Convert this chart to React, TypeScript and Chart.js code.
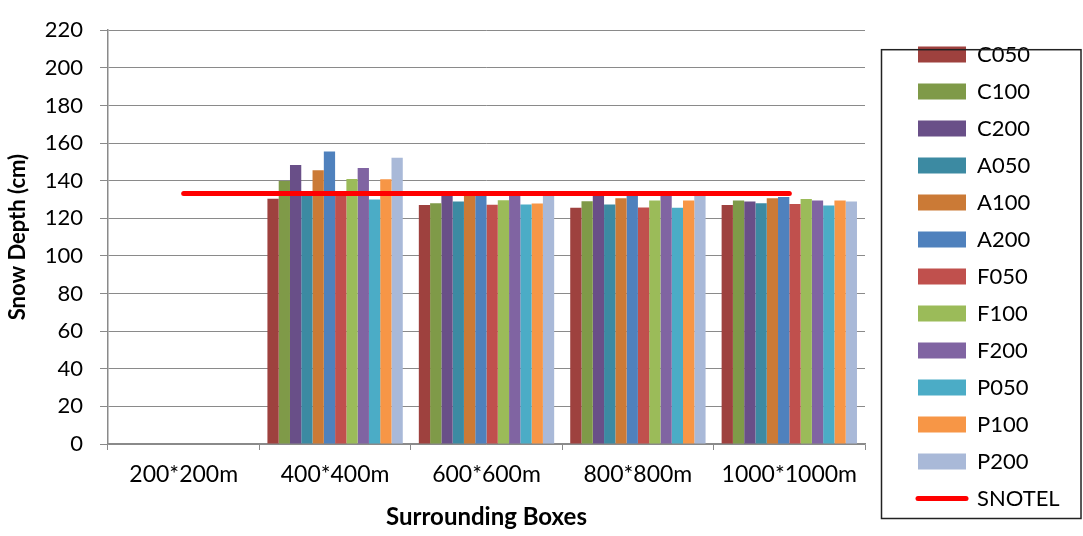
import React, { useEffect, useRef } from 'react';
import { Chart, registerables } from 'chart.js';

Chart.register(...registerables);

const FONT = 'Lato, "Open Sans", sans-serif';

const categories = ['200*200m', '400*400m', '600*600m', '800*800m', '1000*1000m'];

const C050 = [null, 130.4, 127.0, 125.6, 127.0];
const C100 = [null, 139.8, 128.0, 129.0, 129.4];
const C200 = [null, 148.3, 133.0, 133.0, 128.9];
const A050 = [null, 133.5, 128.9, 127.3, 128.0];
const A100 = [null, 145.5, 133.5, 130.7, 130.6];
const A200 = [null, 155.5, 133.5, 133.5, 131.3];
const F050 = [null, 133.5, 127.2, 125.8, 127.6];
const F100 = [null, 140.9, 129.6, 129.4, 130.2];
const F200 = [null, 146.7, 133.5, 133.5, 129.4];
const P050 = [null, 130.0, 127.3, 125.6, 126.8];
const P100 = [null, 140.7, 127.8, 129.4, 129.4];
const P200 = [null, 152.2, 133.5, 133.5, 128.9];
const SNOTEL = [133.2, 133.2, 133.2, 133.2, 133.2];

const barSeries = [
  { name: 'C050', values: C050, color: '#9E413E' },
  { name: 'C100', values: C100, color: '#7F9A48' },
  { name: 'C200', values: C200, color: '#694F88' },
  { name: 'A050', values: A050, color: '#3C8AA2' },
  { name: 'A100', values: A100, color: '#CB7A36' },
  { name: 'A200', values: A200, color: '#4F81BD' },
  { name: 'F050', values: F050, color: '#C0504D' },
  { name: 'F100', values: F100, color: '#9BBB59' },
  { name: 'F200', values: F200, color: '#8064A2' },
  { name: 'P050', values: P050, color: '#4BACC6' },
  { name: 'P100', values: P100, color: '#F79646' },
  { name: 'P200', values: P200, color: '#A9B9D8' },
];

const yMin = 0;
const yMax = 220;
const yStep = 20;

const GRID = '#8a8a8a';

const tweakPlugin = {
  id: 'tweak',
  beforeUpdate(chart: any) {
    const lg = chart.legend;
    if (lg && !lg._patched) {
      const orig = lg.fit;
      lg.fit = function () {
        orig.call(this);
        this.width = 218;
      };
      lg._patched = true;
    }
  },
  afterLayout(chart: any) {
    const lg = chart.legend;
    if (lg) {
      lg.left += 38;
      lg.right += 38;
    }
  },
  afterDraw(chart: any) {
    const ctx = chart.ctx;
    const area = chart.chartArea;
    ctx.save();
    ctx.strokeStyle = '#222';
    ctx.lineWidth = 1.5;
    ctx.strokeRect(area.right + 16.5, area.top + 19.5, chart.width - area.right - 18.5, area.bottom - area.top + 55);
    ctx.restore();
  },
};

export default function App() {
  const ref = useRef<HTMLCanvasElement>(null);

  useEffect(() => {
    document.body.style.margin = '0';
    const canvas = ref.current;
    if (!canvas) return;
    const datasets: any[] = barSeries.map((s) => ({
      type: 'bar',
      label: s.name,
      data: s.values,
      backgroundColor: s.color,
      borderWidth: 0,
      categoryPercentage: 0.894,
      barPercentage: 1,
      order: 1,
    }));
    datasets.push({
      type: 'line',
      label: 'SNOTEL',
      data: SNOTEL,
      borderColor: '#FF0000',
      backgroundColor: '#FF0000',
      borderWidth: 5,
      borderCapStyle: 'round',
      pointRadius: 0,
      pointHoverRadius: 0,
      tension: 0,
      order: -1,
    });

    const chart = new Chart(canvas, {
      type: 'bar',
      data: { labels: categories, datasets },
      options: {
        responsive: false,
        animation: false,
        layout: { padding: { top: 17, left: 0, right: 0, bottom: 0 } },
        plugins: {
          tooltip: { enabled: false },
          legend: {
            position: 'right',
            align: 'center',
            labels: {
              font: { family: FONT, size: 22 },
              color: '#000',
              padding: 15,
              usePointStyle: true,
              pointStyleWidth: 48,
              boxHeight: 16,
              sort: (a: any, b: any) => a.datasetIndex - b.datasetIndex,
              generateLabels: (ch: any) => {
                const items = (Chart.defaults.plugins.legend.labels as any).generateLabels(ch);
                return items.map((it: any) => {
                  const ds = ch.data.datasets[it.datasetIndex];
                  if (ds.type === 'line') {
                    return { ...it, pointStyle: 'line', strokeStyle: '#FF0000', fillStyle: '#FF0000', lineWidth: 5, lineCap: 'round' };
                  }
                  return { ...it, pointStyle: 'rect', lineWidth: 0, strokeStyle: it.fillStyle };
                });
              },
            },
          },
        },
        scales: {
          x: {
            offset: true,
            grid: { display: true, offset: true, drawOnChartArea: false, color: GRID, tickLength: 6, lineWidth: 1 },
            border: { display: true, color: GRID, width: 1.5 },
            ticks: { font: { family: FONT, size: 23 }, color: '#000', padding: 11, maxRotation: 0, autoSkip: false },
            title: { display: true, text: 'Surrounding Boxes', font: { family: FONT, size: 24, weight: 'bold' }, color: '#000', padding: { top: 4, bottom: 4 } },
            afterFit: (s: any) => { s.height = 92; },
          },
          y: {
            min: yMin,
            max: yMax,
            ticks: { stepSize: yStep, font: { family: FONT, size: 22 }, color: '#000', padding: 17 },
            grid: { color: GRID, tickLength: 8, lineWidth: 1 },
            border: { display: true, color: GRID, width: 1.5 },
            title: { display: true, text: 'Snow Depth (cm)', font: { family: FONT, size: 22, weight: 'bold' }, color: '#000', padding: { top: 5, bottom: 4 } },
            afterFit: (s: any) => { s.width = 108; },
          },
        },
      },
      plugins: [tweakPlugin],
    } as any);
    return () => chart.destroy();
  }, []);

  return (
    <div style={{ width: 1083, height: 536 }}>
      <canvas ref={ref} width={1083} height={536} style={{ display: 'block' }} />
    </div>
  );
}
